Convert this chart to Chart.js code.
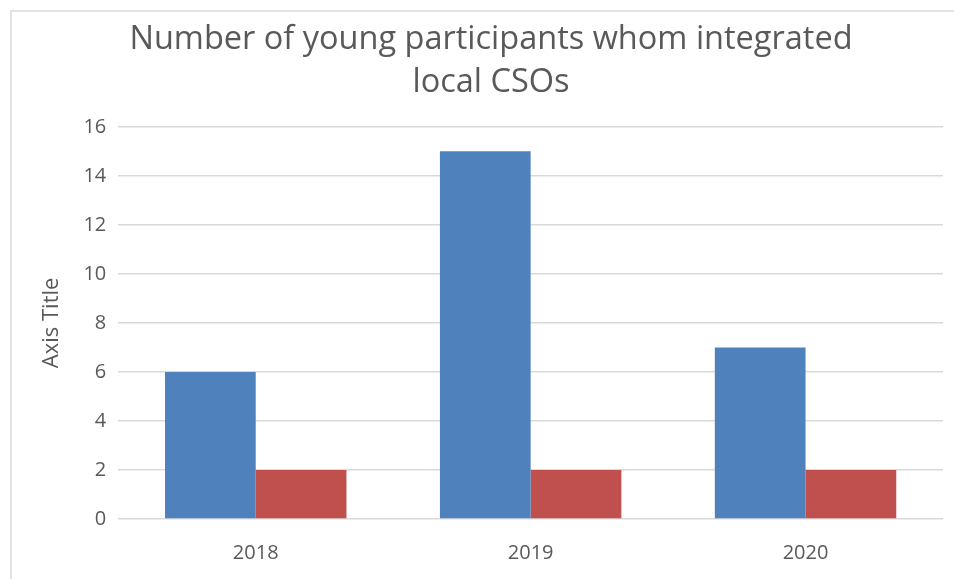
<!DOCTYPE html>
<html>
<head>
<meta charset="utf-8">
<title>Young participants chart</title>
<script src="https://cdn.jsdelivr.net/npm/chart.js@4"></script>
<style>
    html, body { margin: 0; padding: 0; background: #fff; }
    .wrap { position: relative; width: 954px; height: 579px; }
    /* thin frame on the left and top edges of the chart box */
    .frame {
        position: absolute; left: 10px; top: 10px; right: 0; bottom: 0;
        border-left: 2px solid #e3e3e3; border-top: 2px solid #e3e3e3;
        pointer-events: none;
    }
</style>
</head>
<body>
<div class="wrap">
    <canvas id="chart" width="954" height="579"></canvas>
    <div class="frame"></div>
</div>
<script>
// 年ごとのデータ
const years = ['2018', '2019', '2020'];
const seriesBlue = [6, 15, 7];
const seriesRed = [2, 2, 2];
const titleLines = ['Number of young participants whom integrated', 'local CSOs'];

const TEXT = '#595959';

new Chart(document.getElementById('chart'), {
    type: 'bar',
    data: {
        labels: years,
        datasets: [
            {
                label: 'Series 1',
                data: seriesBlue,
                backgroundColor: '#4F81BD',
                borderWidth: 0,
                barPercentage: 1,
                categoryPercentage: 0.66
            },
            {
                label: 'Series 2',
                data: seriesRed,
                backgroundColor: '#C0504D',
                borderWidth: 0,
                barPercentage: 1,
                categoryPercentage: 0.66
            }
        ]
    },
    options: {
        responsive: false,
        animation: false,
        layout: {
            padding: { left: 39, right: 11, top: 10, bottom: 0 }
        },
        plugins: {
            legend: { display: false },
            tooltip: { enabled: false },
            title: {
                display: true,
                text: titleLines,
                color: TEXT,
                font: { family: 'Open Sans', size: 32.5, weight: 'normal', lineHeight: 1.32 },
                padding: { top: 8, bottom: 23 }
            }
        },
        scales: {
            x: {
                grid: { display: false },
                border: { display: false },
                ticks: {
                    color: TEXT,
                    padding: 14,
                    font: { family: 'Open Sans', size: 20 }
                }
            },
            y: {
                min: 0,
                max: 16,
                ticks: {
                    stepSize: 2,
                    color: TEXT,
                    padding: 12,
                    font: { family: 'Open Sans', size: 20 }
                },
                grid: {
                    color: '#d9d9d9',
                    lineWidth: 1.5,
                    drawTicks: false
                },
                border: { display: false },
                title: {
                    display: true,
                    text: 'Axis Title',
                    color: TEXT,
                    padding: { top: 0, bottom: 6 },
                    font: { family: 'Open Sans', size: 22 }
                }
            }
        }
    }
});
</script>
</body>
</html>
